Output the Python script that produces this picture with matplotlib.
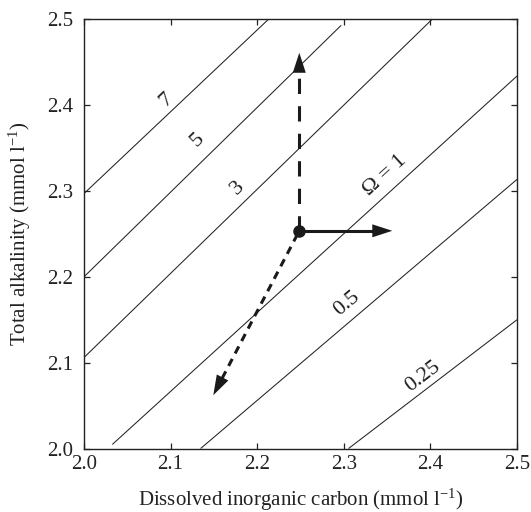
import numpy as np
import matplotlib
matplotlib.use("Agg")
import matplotlib.pyplot as plt

plt.rcParams['font.family'] = ['Liberation Serif', 'DejaVu Serif']
plt.rcParams['mathtext.fontset'] = 'custom'
plt.rcParams['mathtext.rm'] = 'Liberation Serif'
plt.rcParams['mathtext.it'] = 'Liberation Serif:italic'

# Omega isolines: (DIC, TA) end points
omega_labels = ['7', '5', '3', 'Ω = 1', '0.5', '0.25']
line_dic = [[2.000, 2.213], [2.000, 2.297], [2.000, 2.402],
            [2.0327, 2.500], [2.1347, 2.500], [2.3055, 2.500]]
line_ta = [[2.297, 2.500], [2.200, 2.493], [2.106, 2.500],
           [2.0047, 2.4339], [2.000, 2.3135], [2.000, 2.150]]
label_dic = [2.0947, 2.1316, 2.1778, 2.3476, 2.3037, 2.3911]
label_ta = [2.406, 2.3593, 2.3034, 2.3185, 2.1693, 2.0835]

# process arrows: origin and tips
origin = (2.2486, 2.2536)
tip_up = (2.2486, 2.461)
tip_right = (2.356, 2.2536)
tip_diag = (2.1493, 2.0621)

xticks = [2.0, 2.1, 2.2, 2.3, 2.4, 2.5]
yticks = [2.0, 2.1, 2.2, 2.3, 2.4, 2.5]

fig = plt.figure(figsize=(5.31, 5.12), dpi=100)
W, H = 531, 512
L, R, T, B = 84, 517, 19.3, 448.5
ax = fig.add_axes([L / W, 1 - B / H, (R - L) / W, (B - T) / H])
ax.set_xlim(2.0, 2.5)
ax.set_ylim(2.0, 2.5)
ax.set_xticks(xticks)
ax.set_yticks(yticks)
ax.set_xticklabels([f"{v:.1f}" for v in xticks])
ax.set_yticklabels([f"{v:.1f}" for v in yticks])
ax.tick_params(direction='in', top=True, right=True, length=4, width=0.9,
               labelsize=15, color='#222222', labelcolor='#222222')
ax.tick_params(axis='x', pad=4.5)
ax.tick_params(axis='y', pad=7.5)
for s in ax.spines.values():
    s.set_linewidth(1.0)
    s.set_color('#222222')

for xs, ys in zip(line_dic, line_ta):
    ax.plot(xs, ys, color='#222222', lw=0.75, solid_capstyle='butt')

for lab, lx, ly, xs, ys in zip(omega_labels, label_dic, label_ta, line_dic, line_ta):
    p0 = ax.transData.transform((xs[0], ys[0]))
    p1 = ax.transData.transform((xs[1], ys[1]))
    ang = np.degrees(np.arctan2(p1[1] - p0[1], p1[0] - p0[0]))
    ax.text(lx, ly, lab, fontsize=16, rotation=ang, rotation_mode='anchor',
            ha='center', va='center', color='#222222')


def arrow(start, tip, ls, lw, head_len=20, head_w=6.5, gap_start=0.0):
    p0 = ax.transData.transform(start)
    p1 = ax.transData.transform(tip)
    d = p1 - p0
    d = d / np.hypot(*d)
    base = p1 - d * (head_len * 0.85)
    s = p0 + d * gap_start
    bd = ax.transData.inverted().transform(base)
    sd = ax.transData.inverted().transform(s)
    ax.plot([sd[0], bd[0]], [sd[1], bd[1]], color='#1a1a1a', lw=lw,
            linestyle=ls, dash_capstyle='butt', solid_capstyle='butt')
    hb = ax.transData.inverted().transform(p1 - d * head_len)
    ax.annotate('', xy=tip, xytext=hb,
                arrowprops=dict(arrowstyle=f'-|>,head_length={head_len*0.72},head_width={head_w*0.72}',
                                mutation_scale=1, lw=0, fc='#1a1a1a', ec='#1a1a1a',
                                shrinkA=0, shrinkB=0))


arrow(origin, tip_up, (0, (5.0, 4.0)), 2.2)
arrow(origin, tip_right, '-', 2.2)
arrow(origin, tip_diag, (0, (2.6, 2.0)), 2.2, gap_start=4)
ax.plot([origin[0]], [origin[1]], 'o', color='#1a1a1a', markersize=8, zorder=5)

ax.set_xlabel('Dissolved inorganic carbon (mmol l$^{-1}$)', fontsize=15, color='#222222')
ax.set_ylabel('Total alkalinity (mmol l$^{-1}$)', fontsize=15, color='#222222')
ax.xaxis.label.set_va('center')
ax.yaxis.label.set_va('center')
ax.xaxis.set_label_coords(0.5, (B - 500) / (B - T))
ax.yaxis.set_label_coords((20 - L) / (R - L), 0.5)

fig.savefig('out.png', dpi=100)
